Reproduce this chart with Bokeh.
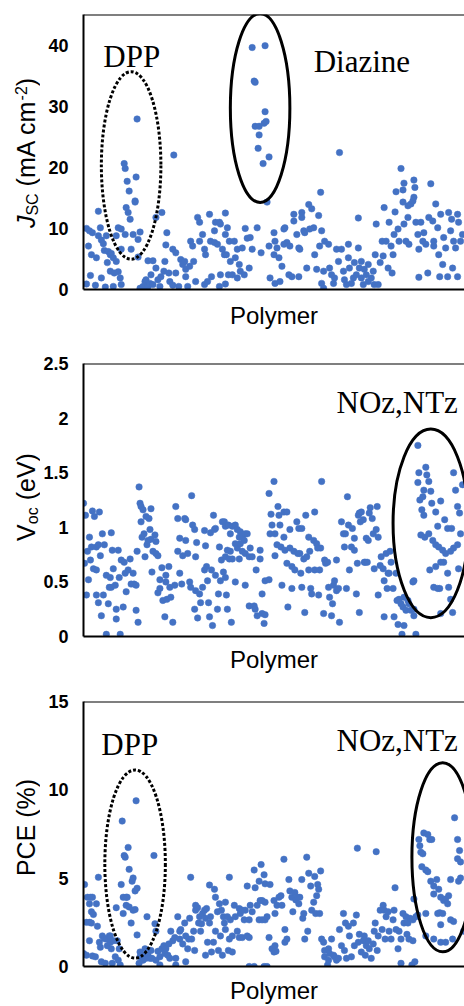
import math
from bokeh.plotting import figure
from bokeh.layouts import column, row
from bokeh.models import Label, Span, FixedTicker, Range1d
from bokeh.embed import file_html
from bokeh.resources import INLINE

# ---------------- data (polymer index, value) ----------------
jsc_points = [
    (3,10.0),(6,9.6),(9,9.3),(5,7.1),(8,5.7),(13,5.2),(3,0.9),(7,2.3),(12,0.7),(15,12.8),(17,10.1),(15,8.8),
    (18,8.1),(20,7.5),(18,1.9),(22,0.4),(23,8.8),(21,6.4),(25,6.2),(27,5.7),(24,4.4),(28,5.9),(30,5.2),(27,3.0),
    (30,0.5),(33,8.8),(35,10.1),(38,9.9),(33,4.6),(35,2.9),(37,1.9),(38,0.8),(31,2.7),(38,6.6),(41,20.6),(42,19.8),
    (44,17.7),(46,16.1),(43,13.4),(45,12.6),(47,11.5),(42,9.0),(48,6.6),(50,9.0),(52,14.5),(52,14.3),(53,18.4),
    (54,27.9),(55,8.2),(57,9.4),(55,5.3),(57,0.2),(60,0.5),(62,1.3),(65,0.5),(63,1.6),(67,1.0),(65,4.7),(70,4.7),
    (68,2.4),(70,0.8),(73,3.5),(73,11.8),(75,1.6),(77,0.5),(79,12.6),(78,2.1),(81,3.0),(83,7.3),(82,4.6),(84,9.3),
    (86,2.7),(87,1.3),(90,0.7),(91,22.0),(90,6.6),(93,6.0),(93,2.7),(96,0.5),(98,4.9),(100,4.1),(102,4.6),(103,3.3),
    (103,2.1),(105,0.5),(107,3.8),(108,7.9),(110,7.1),(111,4.6),(113,1.3),(115,11.8),(117,11.0),(117,7.9),(120,9.0),
    (122,6.6),(123,5.7),(122,0.8),(125,1.3),(127,12.3),(128,7.9),(129,2.1),(132,9.6),(132,7.7),(133,11.0),(135,7.4),
    (137,11.0),(138,10.7),(137,0.5),(138,2.4),(140,6.6),(142,5.7),
    (143,12.5),(145,10.1),(143,9.0),(147,7.9),(144,5.7),(148,4.6),(146,2.4),(143,0.9),(152,7.9),(155,6.6),(153,5.2),
    (157,4.1),(150,2.4),(155,1.9),(158,3.0),(162,2.4),(160,6.8),(163,10.0),(165,8.4),(168,8.5),(170,6.6),(167,3.5),
    (175,10.1),
    (170,39.6),(183,39.9),(172,34.1),(173,33.9),(183,29.1),(173,26.7),(177,26.7),(182,27.2),(184,27.5),(177,25.3),
    (176,23.1),(187,21.7),(181,20.6),(185,14.3),
    (179,6.0),(187,7.1),(192,9.3),(193,7.9),(195,6.8),(197,5.2),(192,5.7),(188,1.9),(193,1.0),(198,1.3),(202,9.9),
    (203,10.1),(205,7.7),(200,3.8),(202,7.4),(208,7.1),(207,2.4),(210,2.1),(212,12.3),(212,11.2),(215,9.0),(217,6.8),
    (218,6.6),(217,2.1),(220,12.6),(220,11.8),(222,9.6),(223,9.3),(225,3.5),(227,13.9),(228,9.9),(230,13.2),
    (232,10.1),(233,5.7),(235,3.3),(237,12.1),(238,7.1),(239,15.9),(240,9.6),(242,3.0),(243,7.9),(240,1.0),(242,0.2),
    (247,7.4),(248,3.5),(250,2.4),(252,1.0),(253,1.9),(255,6.6),(257,4.6),(258,22.4),(260,6.6),(262,3.0),(263,1.6),
    (265,0.8),(267,7.4),(267,5.2),(268,3.5),(270,1.0),(272,1.9),(273,4.4),(275,2.4),(277,6.8),(277,11.7),(278,3.5),
    (280,4.6),(280,1.9),(282,0.8),(283,3.3),(285,2.4),(287,4.1),(287,1.3),(290,1.9),(292,3.0),(293,0.8),(294,5.7),
    (295,10.7),(297,0.8),(299,4.4),(301,7.9),(302,5.5),(303,13.4),(305,7.9),(307,3.5),(308,11.0),(310,7.1),(311,2.7),
    (312,5.7),(313,9.0),(314,12.7),(315,16.0),(317,9.9),(318,7.9),(320,19.8),(322,16.3),(323,17.4),(322,14.3),
    (323,10.7),(325,7.9),(327,13.7),(327,11.8),(328,7.4),(330,14.0),(332,14.5),(333,15.1),(333,17.9),(334,16.7),
    (335,11.0),(337,9.0),(338,6.6),(340,11.0),(338,2.0),(342,7.9),(343,9.3),(345,7.4),(347,2.7),(348,11.8),(350,17.3),
    (352,11.2),(353,7.9),(353,7.1),(355,14.0),(357,10.1),(358,5.7),(359,2.1),(360,12.3),(362,4.1),(363,8.5),(365,6.8),
    (367,2.1),(368,12.6),(370,9.6),(371,11.5),(372,3.5),(373,7.9),(375,6.8),(377,2.1),(377,12.3),(378,11.0),
    (380,7.9),(382,9.0),
]

voc_points = [
    (0,1.22),(2,1.11),(1,0.67),(5,0.52),(3,0.38),(6,0.91),(4,0.78),(7,0.70),(9,1.15),(11,1.10),(8,0.82),(10,0.62),
    (13,0.61),(13,0.82),(16,1.14),(15,0.84),(17,0.74),(13,0.38),(15,0.31),(18,0.19),(19,0.94),(21,0.84),(20,0.38),
    (23,0.02),(23,0.56),(25,0.30),(27,0.54),(26,0.45),(28,0.95),(29,0.79),(30,0.62),(28,0.45),(32,0.47),(33,0.25),
    (33,0.16),(35,0.79),(36,0.54),(37,0.02),(38,0.70),(40,0.27),(41,0.68),(42,0.58),(43,0.41),(45,0.61),(47,0.71),
    (48,0.48),(50,0.58),(51,0.48),(53,0.24),(55,0.13),(53,0.47),(54,0.78),(56,1.37),(57,1.22),(58,1.19),(58,1.05),
    (59,0.91),(60,1.16),(61,0.94),(62,0.73),(63,1.10),(64,0.84),(65,0.88),(66,1.08),(67,0.98),(68,1.17),(68,0.89),
    (70,0.78),(72,0.93),(73,0.87),(73,0.76),(69,0.59),(75,0.74),(75,0.40),(77,0.52),(77,0.44),(79,0.63),(80,0.33),
    (82,0.18),(83,0.56),(83,0.50),(84,0.34),(86,0.64),(87,0.45),(88,0.36),(90,0.13),(92,0.47),(93,1.19),(95,1.08),
    (95,0.78),(97,0.90),(97,0.58),(99,0.48),(100,0.74),(102,1.08),(103,1.07),(103,0.88),(105,0.76),(107,0.50),
    (108,0.45),(109,1.29),(110,1.02),(112,0.98),(113,0.73),(113,0.42),(112,0.25),(115,0.17),(114,0.86),(117,0.39),
    (118,0.31),(120,0.45),(122,0.97),(123,0.83),(122,0.61),(124,0.64),(125,0.51),(126,0.31),(127,0.18),(128,0.95),
    (129,0.61),(130,0.10),(131,1.11),(132,0.98),(133,0.56),(133,0.99),(135,0.25),(136,0.39),(137,0.82),(138,0.51),
    (139,0.70),(140,1.05),(141,0.59),
    (142,1.05),(143,1.01),(146,1.02),(148,0.94),(150,1.01),(153,1.02),(155,0.98),(157,0.91),(158,0.96),(160,0.91),
    (162,0.88),(163,0.94),(165,0.94),(153,0.85),(155,0.81),(158,0.85),(160,0.78),(148,0.78),(145,0.79),(143,0.73),
    (147,0.71),(150,0.71),(157,0.71),(163,0.76),(167,0.73),(168,0.81),(170,0.73),(143,0.54),(153,0.50),(163,0.47),
    (144,0.38),(145,0.25),(149,0.13),(167,0.28),(172,0.28),(173,0.25),(175,0.19),(180,0.21),(182,0.12),(183,0.20),
    (178,0.79),(178,0.71),(174,0.61),(180,0.39),(183,0.51),(187,0.52),(187,1.31),(192,1.42),(189,1.12),(190,1.02),
    (188,0.94),(193,0.94),(196,1.19),(197,1.11),(195,0.84),(193,0.74),(198,1.02),(199,0.82),(200,0.47),(202,1.14),
    (202,0.91),(203,0.79),(205,1.14),(205,0.67),(206,0.27),(208,0.98),(208,0.81),(210,0.64),(210,0.44),(212,0.78),
    (213,0.61),(215,1.05),(216,0.76),(217,0.99),(218,0.76),(219,0.58),(220,0.99),(220,0.45),(222,0.71),(223,0.22),
    (224,1.11),(225,0.73),(227,0.91),(227,0.61),(229,0.44),(228,0.78),(230,0.39),(232,0.88),(233,1.14),(233,0.61),
    (235,0.85),(236,0.81),(237,0.38),(238,0.61),(239,0.81),(240,1.42),(242,0.21),(243,0.70),(244,0.67),(246,0.68),
    (247,0.45),(248,0.36),(250,0.19),(251,0.30),(252,0.47),(253,0.51),(255,0.42),(255,0.70),(257,0.44),(258,0.13),
    (260,1.05),(262,0.94),(263,0.82),(264,0.94),(265,0.44),(266,1.28),(267,1.02),(268,0.61),(270,0.82),(271,0.99),
    (273,0.79),(273,0.90),(275,0.39),(276,0.67),(277,1.11),(278,1.13),(279,1.05),(278,0.22),(280,1.14),(282,1.07),
    (283,0.68),(284,0.68),(285,0.90),(286,0.68),(287,0.88),(288,1.13),(289,1.18),(291,1.08),(292,0.94),(293,0.62),
    (295,0.98),(296,1.19),(297,0.91),(297,0.38),(299,0.65),(300,0.73),(302,0.62),(303,0.18),(303,0.51),(305,0.76),
    (306,0.44),(307,0.58),(308,0.58),(309,0.78),(310,0.68),(312,0.44),(313,0.18),(315,0.58),(316,0.33),(317,0.11),
    (318,0.34),(320,0.30),(321,0.02),(322,0.27),(323,0.10),(323,0.36),(325,0.24),(327,0.33),(328,0.30),(330,0.24),
    (332,0.50),(333,0.19),(335,0.02),(333,0.25),(337,1.75),(338,1.50),(337,1.41),(345,1.55),(346,1.48),(348,1.42),
    (350,1.33),(343,1.34),(342,1.28),(339,1.25),(341,1.16),(343,1.11),(351,1.22),(355,1.14),(360,1.24),(364,1.07),
    (357,1.01),(367,0.99),(371,0.99),(373,1.50),(375,1.34),(377,1.19),(379,1.13),(382,1.39),(340,0.93),(344,0.91),
    (348,0.94),(352,0.88),(355,0.84),(358,0.82),(362,0.79),(365,0.76),(370,0.78),(373,0.81),(377,0.84),(380,0.94),
    (378,0.62),(363,0.68),(360,0.68),(355,0.64),(349,0.61),(367,0.58),(353,0.45),(357,0.44),(359,0.44),(368,0.45),
    (333,0.51),(370,0.34),(372,0.22),(360,0.21),
]

pce_points = [
    (1,4.64),(4,3.92),(7,3.92),(6,3.55),(9,3.92),(8,3.10),(10,2.95),(13,3.55),(15,5.05),(3,2.50),(6,2.50),(8,2.46),
    (14,2.28),(6,1.46),(0,0.73),(3,0.64),(9,0.60),(12,0.55),(16,1.37),(17,1.09),(19,1.73),(18,0.27),(22,0.18),
    (21,1.58),(23,1.55),(24,1.18),(26,1.73),(27,1.37),(27,1.73),(28,1.00),(30,1.46),(29,0.18),(32,0.55),(33,3.33),
    (34,1.46),(36,1.00),(35,0.36),(37,0.09),(38,4.64),(39,8.23),(40,3.92),(40,3.00),(41,6.28),(42,6.19),(43,3.92),
    (43,3.46),(44,3.92),(45,6.74),(46,5.50),(46,3.37),(48,2.46),(49,4.83),(50,5.01),(52,3.22),(50,3.19),(52,4.28),
    (53,9.38),(54,4.43),(54,1.79),(56,0.18),(57,0.82),(57,0.55),(59,0.64),(60,0.36),(62,1.00),(63,0.46),(64,2.82),
    (65,0.64),(67,0.46),(68,0.91),(69,0.46),(71,6.28),(72,2.42),(73,2.00),(73,0.36),(75,0.86),(77,0.55),(77,0.09),
    (79,1.00),(81,1.18),(82,0.73),(83,1.00),(85,0.64),(86,1.28),(87,0.46),(88,2.00),(90,1.46),(92,1.64),(93,0.09),
    (93,0.46),(95,2.82),(97,2.00),(97,1.55),(98,2.09),(100,1.28),(102,2.46),(103,1.73),(103,0.27),(105,1.00),
    (106,1.55),(107,2.73),(108,5.05),(109,1.55),(111,2.00),(112,0.91),(113,3.19),(113,3.46),(115,3.33),(116,2.46),
    (117,2.82),(118,2.00),(119,2.42),(120,3.00),(122,3.19),(123,0.64),(123,2.73),(124,3.28),(125,1.37),(127,4.61),
    (127,2.46),(128,2.82),(129,0.82),(131,1.37),(132,4.37),(133,3.92),(133,2.00),(135,3.10),(136,0.91),(137,3.55),
    (138,1.73),(139,3.19),(140,0.64),(141,2.82),(142,2.46),
    (143,3.64),(147,5.05),(145,2.82),(143,2.09),(148,2.64),(152,3.46),(153,2.82),(155,2.00),(150,1.73),(147,1.55),
    (146,0.91),(150,0.82),(157,3.28),(158,3.00),(160,3.19),(162,2.64),(163,3.19),(165,4.55),(167,2.64),(168,3.46),
    (170,3.10),(172,5.46),(173,4.46),(175,3.46),(177,4.83),(179,5.77),(182,5.19),(183,4.68),(180,3.73),(183,3.64),
    (183,2.64),(157,1.64),(160,1.64),(165,1.73),(167,1.64),(178,3.73),(177,2.64),(180,2.64),(185,2.82),(187,1.64),
    (188,4.64),(190,1.00),(192,0.82),(193,1.18),(194,0.86),(192,3.73),(193,3.00),(195,3.46),(197,3.92),(199,4.01),
    (200,3.46),(202,6.07),(203,2.09),(203,1.37),(205,1.55),(207,4.92),(208,4.28),(210,3.92),(211,3.10),(213,4.19),
    (214,3.77),(216,3.92),(217,3.55),(218,3.92),(220,4.92),(221,2.73),(222,3.00),(223,1.55),(225,6.19),(226,2.00),
    (227,5.28),(229,4.55),(230,3.19),(232,3.64),(233,5.10),(234,3.00),(235,4.01),(236,4.64),(237,4.37),(238,3.00),
    (239,5.41),(240,1.55),(242,1.37),(243,0.91),(243,0.55),(246,0.09),(247,1.00),(247,0.36),(248,0.73),(250,1.55),
    (252,0.64),(253,0.55),(255,0.36),(257,0.46),(258,2.09),(260,1.18),(262,3.00),(263,0.91),(264,2.46),(265,0.46),
    (267,2.28),(268,1.73),(270,0.55),(272,2.46),(273,1.18),(275,2.91),(276,6.70),(277,1.37),(278,1.82),(280,0.82),
    (282,1.46),(283,1.73),(284,0.64),(285,1.18),(287,1.46),(288,1.00),(290,0.46),(292,1.28),(293,2.00),(294,2.46),
    (295,6.50),(296,0.91),(297,1.73),(299,3.19),(301,2.09),(302,3.46),(303,3.19),(304,1.55),(305,2.82),(307,3.10),
    (308,2.00),(310,1.55),(312,2.64),(313,3.19),(314,4.46),(315,2.09),(317,1.00),(318,2.00),(320,0.18),(320,1.55),
    (322,3.00),(323,2.46),(325,2.82),(326,1.82),(327,2.46),(328,1.55),(329,2.73),(331,0.09),(332,2.64),(333,3.82),
    (334,0.27),(335,2.82),(337,2.91),(338,7.19),(339,6.83),(340,6.47),(342,6.38),(341,5.65),(343,7.56),(347,7.47),
    (349,7.19),(351,7.19),(345,5.46),(347,5.37),(350,4.83),(353,4.55),(356,4.92),(358,4.37),(353,4.10),(360,3.92),
    (363,3.73),(365,3.82),(367,3.55),(368,4.01),(370,4.92),(374,8.42),(377,7.19),(379,6.56),(377,6.10),(380,5.92),
    (378,4.83),(380,5.01),(360,2.37),(357,3.00),(359,3.04),(362,3.00),(370,2.64),(373,2.55),(383,2.00),(332,1.46),
    (345,3.00),(345,1.73),(353,1.55),(360,1.37),(365,1.37),(372,1.55),(167,0.0),(172,0.0),(182,0.0),(185,0.0),
]

jsc_ticks = [0, 10, 20, 30, 40]
voc_ticks = [0, 0.5, 1, 1.5, 2, 2.5]
voc_tick_labels = ["0", "0.5", "1", "1.5", "2", "2.5"]
pce_ticks = [0, 5, 10, 15]
x_label = "Polymer"

# ---------------- style ----------------
BLUE = "#4472C4"
SANS = "Liberation Sans"
SERIF = "Liberation Serif"
X_END = 384
STRIP_W = 40
MAIN_W = 464 - STRIP_W
PAGE_H = 1006


def make_panel(points, ymax, ticks, tick_labels, height, top, bottom, label_gap):
    p = figure(width=MAIN_W, height=height, x_range=Range1d(0, X_END), y_range=Range1d(0, ymax),
               output_backend="svg", toolbar_location=None,
               min_border_left=80 - STRIP_W, min_border_right=0,
               min_border_top=top, min_border_bottom=bottom)
    p.outline_line_color = None
    p.grid.visible = False

    p.yaxis.ticker = FixedTicker(ticks=ticks)
    if tick_labels is not None:
        p.yaxis.major_label_overrides = {t: s for t, s in zip(ticks, tick_labels)}
    p.yaxis.major_label_text_font = SANS
    p.yaxis.major_label_text_font_style = "bold"
    p.yaxis.major_label_text_font_size = "18px"
    p.yaxis.major_label_text_color = "black"
    p.yaxis.major_tick_line_color = None
    p.yaxis.minor_tick_line_color = None
    p.yaxis.major_tick_out = 0
    p.yaxis.major_tick_in = 0
    p.yaxis.major_label_standoff = 15
    p.yaxis.axis_line_width = 2
    p.yaxis.axis_line_color = "black"

    p.xaxis.ticker = FixedTicker(ticks=[])
    p.xaxis.major_label_text_font_size = "0px"
    p.xaxis.major_label_standoff = 0
    p.xaxis.major_tick_out = 0
    p.xaxis.major_tick_in = 0
    p.xaxis.minor_tick_line_color = None
    p.xaxis.major_tick_line_color = None
    p.xaxis.axis_line_width = 2
    p.xaxis.axis_line_color = "black"
    p.xaxis.axis_label = x_label
    p.xaxis.axis_label_text_font = SANS
    p.xaxis.axis_label_text_font_size = "24px"
    p.xaxis.axis_label_text_font_style = "normal"
    p.xaxis.axis_label_text_color = "black"
    p.xaxis.axis_label_standoff = label_gap

    p.add_layout(Span(location=ymax, dimension="width", line_color="black", line_width=2))

    xs = [a for a, b in points]
    ys = [b for a, b in points]
    p.scatter(xs, ys, size=6.5, fill_color=BLUE, line_color=BLUE, line_width=0.5)
    return p


def add_text(p, x, y, text, size, font=SANS, style="normal", angle=0.0, align="left"):
    p.add_layout(Label(x=x, y=y, text=text, angle=angle,
                       text_font=font, text_font_size=size, text_font_style=style,
                       text_color="black", text_align=align, text_baseline="middle"))


V = math.pi / 2

# ---- panel 1: Jsc ----
p1 = make_panel(jsc_points, 45, jsc_ticks, None, 340, 14, 51, 12)
p1.ellipse(x=[48], y=[20.3], width=[60], height=[30.7], fill_color=None,
           line_color="black", line_width=3, line_dash="3 2")
p1.ellipse(x=[178], y=[29.7], width=[60], height=[30.9], fill_color=None,
           line_color="black", line_width=3)
add_text(p1, 20, 38.1, "DPP", "31px", font=SERIF)
add_text(p1, 232, 37.3, "Diazine", "31px", font=SERIF)

# ---- panel 2: Voc ----
p2 = make_panel(voc_points, 2.5, voc_ticks, voc_tick_labels, 340, 23, 44, 9)
p2.ellipse(x=[350], y=[1.036], width=[76], height=[1.727], fill_color=None,
           line_color="black", line_width=3)
add_text(p2, 255, 2.14, "NOz,NTz", "31px", font=SERIF)

# ---- panel 3: PCE ----
p3 = make_panel(pce_points, 15, pce_ticks, None, 326, 21, 31, 10)
p3.ellipse(x=[52], y=[5.8], width=[61], height=[10.65], fill_color=None,
           line_color="black", line_width=3, line_dash="3 2")
p3.ellipse(x=[362], y=[6.18], width=[62], height=[10.7], fill_color=None,
           line_color="black", line_width=3)
add_text(p3, 18, 12.54, "DPP", "31px", font=SERIF)
add_text(p3, 255, 12.81, "NOz,NTz", "31px", font=SERIF)

# ---- left strip holding the rotated axis titles (page-pixel coordinates) ----
strip = figure(width=STRIP_W, height=PAGE_H, x_range=Range1d(0, STRIP_W), y_range=Range1d(0, PAGE_H),
               output_backend="svg", toolbar_location=None, min_border=0)
strip.axis.visible = False
strip.grid.visible = False
strip.outline_line_color = None

def title_piece(text, x, page_y, size, style="normal"):
    add_text(strip, x, PAGE_H - page_y, text, size, style=style, angle=V)

title_piece("J", 25.8, 227.6, "25px", "italic")
title_piece("SC", 31.5, 215.1, "16px")
title_piece("(mA cm", 25.8, 185.9, "25px")
title_piece("-2", 20.5, 99.9, "16px")
title_piece(")", 25.8, 85.7, "25px")

title_piece("V", 25.8, 540.4, "25px")
title_piece("oc", 31.5, 523.7, "16px")
title_piece("(eV)", 25.8, 499.8, "25px")

title_piece("PCE (%)", 25.8, 875.6, "25px")

layout = row(strip, column(p1, p2, p3))
open("out.html", "w").write(file_html(layout, INLINE))
